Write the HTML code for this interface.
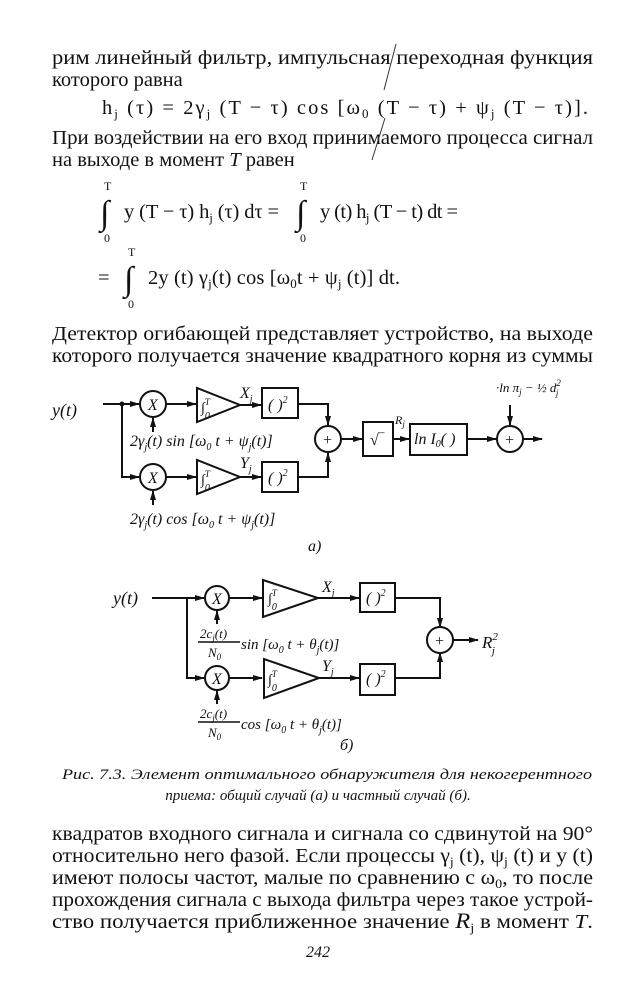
<!DOCTYPE html>
<html><head><meta charset="utf-8"><style>
html,body{margin:0;padding:0;background:#fff;}
svg{display:block;}
text{font-family:"Liberation Serif",serif;fill:#111;}
.b{font-size:20.5px;}
.d{font-family:"Liberation Sans",sans-serif;font-style:italic;font-size:16px;}
.c{font-style:italic;font-size:15px;}
</style></head><body>
<svg width="637" height="1000" viewBox="0 0 637 1000" xmlns="http://www.w3.org/2000/svg">
<defs><marker id="a" markerWidth="10" markerHeight="8" refX="9" refY="4" orient="auto" markerUnits="userSpaceOnUse"><path d="M0,1 L10,4 L0,7z" fill="#111"/></marker></defs>
<g class="b">
<text x="52" y="64" textLength="541" lengthAdjust="spacingAndGlyphs">рим линейный фильтр, импульсная переходная функция</text>
<text x="52" y="86">которого равна</text>
<text x="102" y="114" textLength="486" lengthAdjust="spacing">h<tspan font-size="13" dy="4">j</tspan><tspan dy="-4"> (τ) = 2γ</tspan><tspan font-size="13" dy="4">j</tspan><tspan dy="-4"> (T − τ) cos [ω</tspan><tspan font-size="13" dy="4">0</tspan><tspan dy="-4"> (T − τ) + ψ</tspan><tspan font-size="13" dy="4">j</tspan><tspan dy="-4"> (T − τ)].</tspan></text>
<text x="52" y="144" textLength="541" lengthAdjust="spacingAndGlyphs">При воздействии на его вход принимаемого процесса сигнал</text>
<text x="52" y="166">на выходе в момент <tspan font-style="italic">T</tspan> равен</text>
<text x="100" y="224" font-size="34">∫</text><text x="104" y="190" font-size="12">T</text><text x="104" y="242" font-size="12">0</text>
<text x="124" y="218" textLength="155" lengthAdjust="spacing">y (T − τ) h<tspan font-size="13" dy="4">j</tspan><tspan dy="-4"> (τ) dτ =</tspan></text>
<text x="296" y="224" font-size="34">∫</text><text x="300" y="190" font-size="12">T</text><text x="300" y="242" font-size="12">0</text>
<text x="320" y="218" textLength="138" lengthAdjust="spacing">y (t) h<tspan font-size="13" dy="4">j</tspan><tspan dy="-4"> (T − t) dt =</tspan></text>
<text x="98" y="284">=</text>
<text x="124" y="290" font-size="34">∫</text><text x="128" y="256" font-size="12">T</text><text x="128" y="308" font-size="12">0</text>
<text x="148" y="284" textLength="252" lengthAdjust="spacing">2y (t) γ<tspan font-size="13" dy="4">j</tspan><tspan dy="-4">(t) cos [ω</tspan><tspan font-size="13" dy="4">0</tspan><tspan dy="-4">t + ψ</tspan><tspan font-size="13" dy="4">j</tspan><tspan dy="-4"> (t)] dt.</tspan></text>
<text x="52" y="340" textLength="541" lengthAdjust="spacingAndGlyphs">Детектор огибающей представляет устройство, на выходе</text>
<text x="52" y="362" textLength="541" lengthAdjust="spacingAndGlyphs">которого получается значение квадратного корня из суммы</text>
</g>
<path d="M396,44 L384,90 M385,118 L372,160" stroke="#333" stroke-width="1" fill="none"/>
<g stroke="#111" stroke-width="2" fill="none">
<path d="M103,404 H139" marker-end="url(#a)"/>
<path d="M122,404 V477 H139" marker-end="url(#a)"/>
<circle cx="153" cy="404" r="13"/><circle cx="153" cy="477" r="13"/>
<path d="M166,404 H196" marker-end="url(#a)"/><path d="M166,477 H196" marker-end="url(#a)"/>
<path d="M197,388 V422 L240,405z"/><path d="M197,460 V494 L240,477z"/>
<path d="M240,405 H261" marker-end="url(#a)"/><path d="M240,477 H261" marker-end="url(#a)"/>
<rect x="262" y="388" width="36" height="30"/><rect x="262" y="462" width="36" height="30"/>
<path d="M298,404 H328 V425" marker-end="url(#a)"/><path d="M298,477 H328 V453" marker-end="url(#a)"/>
<circle cx="328" cy="439" r="13"/>
<path d="M341,439 H362" marker-end="url(#a)"/>
<rect x="363" y="422" width="30" height="34"/>
<path d="M393,439 H409" marker-end="url(#a)"/>
<rect x="410" y="424" width="57" height="31"/>
<path d="M467,439 H496" marker-end="url(#a)"/>
<circle cx="510" cy="439" r="13"/>
<path d="M523,439 H542" marker-end="url(#a)"/>
<path d="M510,405 V425" marker-end="url(#a)"/>
<path d="M153,432 V418" marker-end="url(#a)"/><path d="M153,505 V491" marker-end="url(#a)"/>
<circle cx="122" cy="404" r="1.5" fill="#111"/>
<path d="M152,598 H204" marker-end="url(#a)"/>
<path d="M187,598 V678 H204" marker-end="url(#a)"/>
<circle cx="217" cy="598" r="12"/><circle cx="217" cy="678" r="12"/>
<path d="M229,598 H262" marker-end="url(#a)"/><path d="M229,678 H262" marker-end="url(#a)"/>
<path d="M263,580 V617 L318,598z"/><path d="M264,659 V698 L319,678z"/>
<path d="M318,598 H359" marker-end="url(#a)"/><path d="M319,678 H359" marker-end="url(#a)"/>
<rect x="360" y="583" width="35" height="29"/><rect x="360" y="664" width="35" height="31"/>
<path d="M395,598 H440 V627" marker-end="url(#a)"/><path d="M395,678 H440 V653" marker-end="url(#a)"/>
<circle cx="440" cy="640" r="13"/>
<path d="M453,640 H478" marker-end="url(#a)"/>
<path d="M217,624 V611" marker-end="url(#a)"/><path d="M217,704 V691" marker-end="url(#a)"/>
<path d="M198,642 H240 M198,722 H240" stroke-width="1.5"/>
</g>
<g class="d">
<text x="52" y="416" font-size="18">y(t)</text>
<text x="148" y="410">X</text><text x="148" y="483">X</text>
<text x="201" y="412" font-size="14">∫<tspan font-size="9" dy="-7">T</tspan><tspan font-size="10" dx="-5" dy="14">0</tspan></text>
<text x="201" y="484" font-size="14">∫<tspan font-size="9" dy="-7">T</tspan><tspan font-size="10" dx="-5" dy="14">0</tspan></text>
<text x="240" y="398">X<tspan font-size="10" dy="4">j</tspan></text>
<text x="240" y="468">Y<tspan font-size="10" dy="4">j</tspan></text>
<text x="268" y="410">( )<tspan font-size="10" dy="-7">2</tspan></text>
<text x="268" y="483">( )<tspan font-size="10" dy="-7">2</tspan></text>
<text x="322" y="445">+</text><text x="504" y="445">+</text>
<text x="370" y="445">√‾</text>
<text x="395" y="424" font-size="12">R<tspan font-size="9" dy="3">j</tspan></text>
<text x="414" y="444">ln I<tspan font-size="10" dy="3">0</tspan><tspan dy="-3">( )</tspan></text>
<text x="496" y="392" font-size="13">·ln π<tspan font-size="9" dy="3">j</tspan><tspan dy="-3"> − ½ d</tspan><tspan font-size="9" dy="-6">2</tspan><tspan font-size="9" dx="-5" dy="10">j</tspan></text>
<text x="130" y="446" font-size="16">2γ<tspan font-size="10" dy="4">j</tspan><tspan dy="-4">(t) sin [ω</tspan><tspan font-size="10" dy="4">0</tspan><tspan dy="-4"> t + ψ</tspan><tspan font-size="10" dy="4">j</tspan><tspan dy="-4">(t)]</tspan></text>
<text x="130" y="524" font-size="16">2γ<tspan font-size="10" dy="4">j</tspan><tspan dy="-4">(t) cos [ω</tspan><tspan font-size="10" dy="4">0</tspan><tspan dy="-4"> t + ψ</tspan><tspan font-size="10" dy="4">j</tspan><tspan dy="-4">(t)]</tspan></text>
<text x="308" y="551">a)</text>
<text x="113" y="604" font-size="18">y(t)</text>
<text x="212" y="604">X</text><text x="212" y="684">X</text>
<text x="268" y="603" font-size="14">∫<tspan font-size="9" dy="-7">T</tspan><tspan font-size="10" dx="-5" dy="14">0</tspan></text>
<text x="268" y="684" font-size="14">∫<tspan font-size="9" dy="-7">T</tspan><tspan font-size="10" dx="-5" dy="14">0</tspan></text>
<text x="322" y="592">X<tspan font-size="10" dy="4">j</tspan></text>
<text x="322" y="671">Y<tspan font-size="10" dy="4">j</tspan></text>
<text x="366" y="603">( )<tspan font-size="10" dy="-7">2</tspan></text>
<text x="366" y="684">( )<tspan font-size="10" dy="-7">2</tspan></text>
<text x="434" y="646">+</text>
<text x="482" y="648" font-size="17">R<tspan font-size="11" dy="-8">2</tspan><tspan font-size="11" dx="-6" dy="14">j</tspan></text>
<text x="200" y="638" font-size="13">2c<tspan font-size="9" dy="3">j</tspan><tspan dy="-3">(t)</tspan></text>
<text x="208" y="657" font-size="13">N<tspan font-size="9" dy="3">0</tspan></text>
<text x="241" y="649" font-size="15">sin [ω<tspan font-size="10" dy="4">0</tspan><tspan dy="-4"> t + θ</tspan><tspan font-size="10" dy="4">j</tspan><tspan dy="-4">(t)]</tspan></text>
<text x="200" y="718" font-size="13">2c<tspan font-size="9" dy="3">j</tspan><tspan dy="-3">(t)</tspan></text>
<text x="208" y="737" font-size="13">N<tspan font-size="9" dy="3">0</tspan></text>
<text x="241" y="729" font-size="15">cos [ω<tspan font-size="10" dy="4">0</tspan><tspan dy="-4"> t + θ</tspan><tspan font-size="10" dy="4">j</tspan><tspan dy="-4">(t)]</tspan></text>
<text x="340" y="750">б)</text>
</g>
<g class="c">
<text x="62" y="779" textLength="530" lengthAdjust="spacingAndGlyphs">Рис. 7.3. Элемент оптимального обнаружителя для некогерентного</text>
<text x="318" y="800" text-anchor="middle">приема: общий случай (а) и частный случай (б).</text>
</g>
<g class="b">
<text x="52" y="840" textLength="541" lengthAdjust="spacingAndGlyphs">квадратов входного сигнала и сигнала со сдвинутой на 90°</text>
<text x="52" y="862" textLength="541" lengthAdjust="spacingAndGlyphs">относительно него фазой. Если процессы γ<tspan font-size="13" dy="4">j</tspan><tspan dy="-4"> (t), ψ</tspan><tspan font-size="13" dy="4">j</tspan><tspan dy="-4"> (t) и y (t)</tspan></text>
<text x="52" y="884" textLength="541" lengthAdjust="spacingAndGlyphs">имеют полосы частот, малые по сравнению с ω<tspan font-size="13" dy="4">0</tspan><tspan dy="-4">, то после</tspan></text>
<text x="52" y="906" textLength="541" lengthAdjust="spacingAndGlyphs">прохождения сигнала с выхода фильтра через такое устрой-</text>
<text x="52" y="928" textLength="541" lengthAdjust="spacingAndGlyphs">ство получается приближенное значение <tspan font-style="italic" font-size="22">R</tspan><tspan font-size="13" dy="4">j</tspan><tspan dy="-4"> в момент <tspan font-style="italic">T</tspan>.</tspan></text>
<text x="318" y="957" text-anchor="middle" font-style="italic" font-size="16">242</text>
</g>
</svg>
</body></html>
